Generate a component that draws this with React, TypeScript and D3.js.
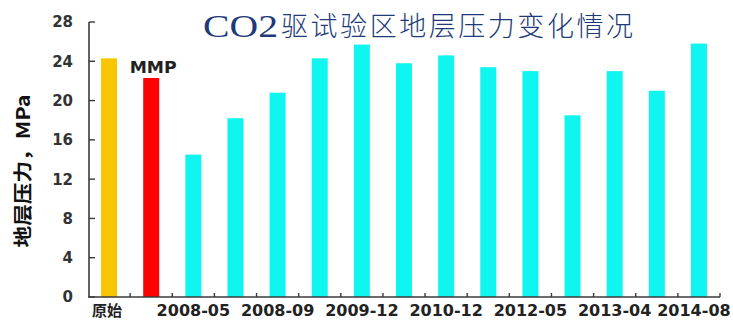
import React from "react";
import * as d3 from "d3";

// Formation pressure survey, CO2 flooding pilot area
const categories = [
  "原始", "MMP", "2008-05", "2008-07", "2008-09", "2009-05", "2009-12", "2010-06",
  "2010-12", "2011-08", "2012-05", "2012-11", "2013-04", "2013-10", "2014-08",
];
const pressures = [24.3, 22.3, 14.5, 18.2, 20.8, 24.3, 25.7, 23.8, 24.6, 23.4, 23.0, 18.5, 23.0, 21.0, 25.8];
const tickLabels = ["原始", "", "2008-05", "", "2008-09", "", "2009-12", "", "2010-12", "", "2012-05", "", "2013-04", "", "2014-08"];
const yTicks = [0, 4, 8, 12, 16, 20, 24, 28];

const W = 733;
const H = 321;

const barColor = (i: number) => (i === 0 ? "#f7c600" : i === 1 ? "#ff0000" : "#0ff5f0");

export default function App() {
  const x = d3
    .scaleBand<string>()
    .domain(categories)
    .range([88, 720])
    .paddingInner(0.62)
    .paddingOuter(0.31);
  const y = d3.scaleLinear().domain([0, 28]).range([297, 22]);
  const step = x.step();
  const axisColor = "#3a3a3a";
  const boundaries = d3.range(1, categories.length + 1).map((i) => 88 + i * step);

  // keep the outer labels inside the frame
  const labelShift = (i: number) => (i === 0 ? -2 : i === categories.length - 1 ? -5 : 0);

  return (
    <svg
      width={W}
      height={H}
      style={{ position: "absolute", left: 0, top: 0, background: "#fff" }}
      fontFamily="'DejaVu Sans', sans-serif"
    >
      {/* title */}
      <text
        x={203}
        y={37}
        fontFamily="'Liberation Serif', serif"
        fontSize={31}
        fill="#1e3a78"
        textLength={75}
        lengthAdjust="spacingAndGlyphs"
      >
        CO2
      </text>
      <text
        x={281}
        y={36}
        fontFamily="'Noto Sans CJK SC', sans-serif"
        fontWeight={300}
        fontSize={27}
        fill="#1e3a78"
        textLength={352}
        lengthAdjust="spacing"
      >
        驱试验区地层压力变化情况
      </text>

      {/* bars */}
      {pressures.map((v, i) => (
        <rect
          key={categories[i]}
          x={x(categories[i])}
          y={y(v)}
          width={x.bandwidth()}
          height={y(0) - y(v)}
          fill={barColor(i)}
        />
      ))}

      {/* MMP annotation */}
      <text
        x={(x("MMP") as number) + x.bandwidth() / 2 + 2}
        y={y(pressures[1]) - 5}
        textAnchor="middle"
        fontWeight="bold"
        fontSize={16}
        fill="#222"
        textLength={47}
        lengthAdjust="spacingAndGlyphs"
      >
        MMP
      </text>

      {/* y axis */}
      <line x1={89} x2={89} y1={y(28)} y2={y(0)} stroke={axisColor} strokeWidth={1.6} />
      {yTicks.map((t) => (
        <g key={t}>
          <line x1={89} x2={95} y1={y(t)} y2={y(t)} stroke={axisColor} strokeWidth={1.4} />
          <text
            x={73}
            y={y(t)}
            dy="0.36em"
            textAnchor="end"
            fontWeight="bold"
            fontSize={15}
            fill="#333"
          >
            {t}
          </text>
        </g>
      ))}

      {/* x axis */}
      <line x1={88} x2={720} y1={y(0)} y2={y(0)} stroke={axisColor} strokeWidth={1.6} />
      {boundaries.map((bx, i) => (
        <line key={i} x1={bx} x2={bx} y1={y(0)} y2={y(0) - 4} stroke={axisColor} strokeWidth={1.4} />
      ))}
      {tickLabels.map((lab, i) =>
        lab ? (
          <text
            key={i}
            x={(x(categories[i]) as number) + x.bandwidth() / 2 + labelShift(i)}
            y={316}
            textAnchor="middle"
            fontWeight="bold"
            fontSize={i === 0 ? 15 : 16}
            fill="#222"
            fontFamily={i === 0 ? "'Noto Sans CJK SC', sans-serif" : "'DejaVu Sans', sans-serif"}
          >
            {lab}
          </text>
        ) : null
      )}

      {/* y axis title */}
      <text
        transform="translate(23,171) rotate(-90)"
        textAnchor="middle"
        dy="0.35em"
        fontFamily="'Noto Sans CJK SC', sans-serif"
        fontWeight="bold"
        fontSize={19}
        fill="#111"
        textLength={153}
        lengthAdjust="spacingAndGlyphs"
      >
        地层压力，MPa
      </text>
    </svg>
  );
}
